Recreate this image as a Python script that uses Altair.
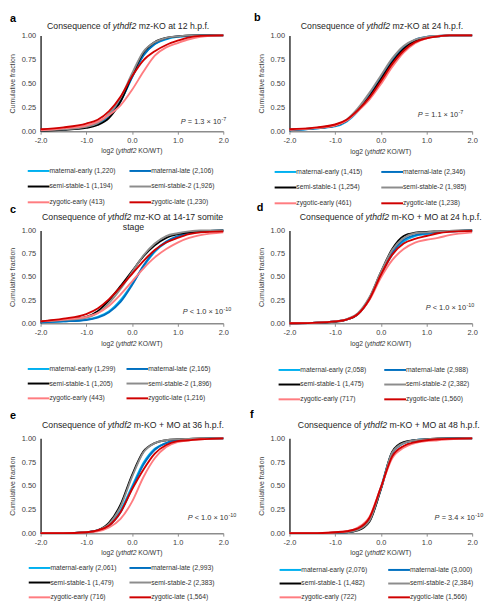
import altair as alt
import pandas as pd

FONT = "Liberation Sans"

X_GRID = [-2.0, -1.5, -1.0, -0.75, -0.5, -0.25, 0.0, 0.25, 0.5, 0.75, 1.0, 1.25, 1.5, 2.0]
SERIES = ["maternal-early", "maternal-late", "semi-stable-1", "semi-stable-2", "zygotic-early", "zygotic-late"]
COLORS = ["#00B0F0", "#0070C0", "#000000", "#8C8C8C", "#FF7C80", "#D00000"]

# ---- panel a : mz-KO at 12 h.p.f.
COUNTS_A = [1220, 2106, 1194, 1926, 413, 1230]
CURVES_A = {
    "maternal-early": [0.01, 0.02, 0.045, 0.08, 0.16, 0.31, 0.56, 0.79, 0.91, 0.96, 0.985, 0.995, 1.0, 1.0],
    "maternal-late": [0.01, 0.02, 0.045, 0.085, 0.17, 0.32, 0.56, 0.79, 0.91, 0.965, 0.99, 0.995, 1.0, 1.0],
    "semi-stable-1": [0.005, 0.015, 0.035, 0.065, 0.14, 0.31, 0.58, 0.82, 0.93, 0.975, 0.99, 1.0, 1.0, 1.0],
    "semi-stable-2": [0.01, 0.02, 0.045, 0.085, 0.18, 0.35, 0.60, 0.83, 0.93, 0.975, 0.99, 1.0, 1.0, 1.0],
    "zygotic-early": [0.01, 0.03, 0.06, 0.10, 0.17, 0.27, 0.43, 0.62, 0.79, 0.875, 0.92, 0.96, 0.985, 1.0],
    "zygotic-late": [0.02, 0.04, 0.08, 0.12, 0.21, 0.36, 0.57, 0.74, 0.835, 0.90, 0.945, 0.98, 0.995, 1.0],
}
# ---- panel b : mz-KO at 24 h.p.f.
COUNTS_B = [1415, 2346, 1254, 1985, 461, 1238]
CURVES_B = {
    "maternal-early": [0.01, 0.025, 0.05, 0.10, 0.21, 0.37, 0.55, 0.73, 0.87, 0.95, 0.98, 0.99, 1.0, 1.0],
    "maternal-late": [0.01, 0.025, 0.055, 0.11, 0.22, 0.38, 0.56, 0.75, 0.88, 0.955, 0.985, 0.995, 1.0, 1.0],
    "semi-stable-1": [0.015, 0.03, 0.06, 0.11, 0.22, 0.36, 0.54, 0.72, 0.86, 0.94, 0.975, 0.99, 1.0, 1.0],
    "semi-stable-2": [0.015, 0.03, 0.065, 0.12, 0.24, 0.40, 0.58, 0.76, 0.89, 0.955, 0.985, 0.995, 1.0, 1.0],
    "zygotic-early": [0.015, 0.03, 0.06, 0.11, 0.21, 0.33, 0.49, 0.67, 0.82, 0.92, 0.97, 0.99, 1.0, 1.0],
    "zygotic-late": [0.02, 0.035, 0.07, 0.12, 0.22, 0.35, 0.52, 0.70, 0.84, 0.93, 0.97, 0.99, 1.0, 1.0],
}
# ---- panel c : mz-KO at 14-17 somite stage
COUNTS_C = [1299, 2165, 1205, 1896, 443, 1216]
CURVES_C = {
    "maternal-early": [0.01, 0.02, 0.04, 0.07, 0.13, 0.25, 0.42, 0.61, 0.77, 0.87, 0.93, 0.97, 0.99, 1.0],
    "maternal-late": [0.01, 0.02, 0.035, 0.06, 0.12, 0.23, 0.41, 0.62, 0.78, 0.88, 0.94, 0.97, 0.99, 1.0],
    "semi-stable-1": [0.02, 0.04, 0.07, 0.13, 0.25, 0.40, 0.56, 0.72, 0.84, 0.92, 0.96, 0.98, 0.99, 1.0],
    "semi-stable-2": [0.02, 0.035, 0.06, 0.11, 0.22, 0.37, 0.55, 0.73, 0.86, 0.94, 0.97, 0.99, 1.0, 1.0],
    "zygotic-early": [0.02, 0.04, 0.07, 0.11, 0.19, 0.31, 0.45, 0.59, 0.71, 0.80, 0.87, 0.92, 0.95, 0.98],
    "zygotic-late": [0.02, 0.05, 0.10, 0.16, 0.26, 0.39, 0.53, 0.67, 0.79, 0.87, 0.92, 0.96, 0.98, 0.99],
}
# ---- panel d : m-KO + MO at 24 h.p.f.
COUNTS_D = [2058, 2988, 1475, 2382, 717, 1560]
CURVES_D = {
    "maternal-early": [0.0, 0.005, 0.02, 0.04, 0.10, 0.26, 0.52, 0.74, 0.88, 0.94, 0.96, 0.98, 0.99, 1.0],
    "maternal-late": [0.0, 0.005, 0.02, 0.04, 0.10, 0.26, 0.53, 0.76, 0.90, 0.95, 0.97, 0.98, 0.99, 1.0],
    "semi-stable-1": [0.0, 0.005, 0.015, 0.04, 0.10, 0.27, 0.55, 0.80, 0.94, 0.975, 0.985, 0.99, 0.995, 1.0],
    "semi-stable-2": [0.0, 0.005, 0.02, 0.045, 0.11, 0.28, 0.55, 0.79, 0.92, 0.97, 0.98, 0.99, 0.995, 1.0],
    "zygotic-early": [0.0, 0.005, 0.02, 0.04, 0.10, 0.25, 0.49, 0.68, 0.80, 0.87, 0.90, 0.92, 0.95, 0.98],
    "zygotic-late": [0.0, 0.005, 0.02, 0.04, 0.10, 0.26, 0.52, 0.74, 0.86, 0.91, 0.94, 0.97, 0.985, 0.995],
}
# ---- panel e : m-KO + MO at 36 h.p.f.
COUNTS_E = [2061, 2993, 1479, 2383, 716, 1564]
CURVES_E = {
    "maternal-early": [0.0, 0.0, 0.01, 0.03, 0.09, 0.24, 0.49, 0.74, 0.89, 0.95, 0.98, 0.99, 0.995, 1.0],
    "maternal-late": [0.0, 0.0, 0.01, 0.03, 0.08, 0.22, 0.47, 0.72, 0.88, 0.95, 0.98, 0.99, 0.995, 1.0],
    "semi-stable-1": [0.0, 0.0, 0.01, 0.03, 0.11, 0.30, 0.61, 0.86, 0.95, 0.98, 0.99, 0.995, 1.0, 1.0],
    "semi-stable-2": [0.0, 0.0, 0.01, 0.03, 0.10, 0.28, 0.59, 0.85, 0.95, 0.98, 0.99, 0.995, 1.0, 1.0],
    "zygotic-early": [0.0, 0.0, 0.01, 0.02, 0.06, 0.15, 0.33, 0.59, 0.79, 0.91, 0.96, 0.98, 0.99, 1.0],
    "zygotic-late": [0.0, 0.0, 0.01, 0.03, 0.08, 0.22, 0.46, 0.67, 0.84, 0.93, 0.97, 0.98, 0.99, 1.0],
}
# ---- panel f : m-KO + MO at 48 h.p.f.
COUNTS_F = [2076, 3000, 1482, 2384, 722, 1566]
CURVES_F = {
    "maternal-early": [0.0, 0.0, 0.005, 0.01, 0.04, 0.14, 0.48, 0.85, 0.95, 0.98, 0.99, 0.995, 1.0, 1.0],
    "maternal-late": [0.0, 0.0, 0.005, 0.01, 0.04, 0.13, 0.46, 0.84, 0.95, 0.98, 0.99, 0.995, 1.0, 1.0],
    "semi-stable-1": [0.0, 0.0, 0.005, 0.01, 0.03, 0.12, 0.46, 0.86, 0.96, 0.98, 0.99, 1.0, 1.0, 1.0],
    "semi-stable-2": [0.0, 0.0, 0.005, 0.01, 0.035, 0.13, 0.47, 0.85, 0.95, 0.98, 0.99, 1.0, 1.0, 1.0],
    "zygotic-early": [0.0, 0.0, 0.01, 0.02, 0.06, 0.17, 0.48, 0.79, 0.90, 0.95, 0.97, 0.98, 0.99, 1.0],
    "zygotic-late": [0.0, 0.0, 0.01, 0.02, 0.05, 0.16, 0.48, 0.81, 0.92, 0.96, 0.98, 0.99, 0.995, 1.0],
}

# titles: (text before the italic gene, text after, optional second line)
GENE = "ythdf2"
TITLES = {
    "a": ("Consequence of", "mz-KO at 12 h.p.f.", None),
    "b": ("Consequence of", "mz-KO at 24 h.p.f.", None),
    "c": ("Consequence of", "mz-KO at 14-17 somite", "stage"),
    "d": ("Consequence of", "m-KO + MO at 24 h.p.f.", None),
    "e": ("Consequence of", "m-KO + MO at 36 h.p.f.", None),
    "f": ("Consequence of", "m-KO + MO at 48 h.p.f.", None),
}
# P values: (relation, mantissa, exponent)
PVALS = {
    "a": ("=", "1.3", "-7"),
    "b": ("=", "1.1", "-7"),
    "c": ("<", "1.0", "-10"),
    "d": ("<", "1.0", "-10"),
    "e": ("<", "1.0", "-10"),
    "f": ("=", "3.4", "-10"),
}

# ---- layout / style (pixels relative to each plot area)
W = 185
ROW_H = {"a": 97, "b": 97, "c": 94, "d": 94, "e": 96, "f": 96}
LAYOUT = {
    "a": dict(letter=(-31, -17), gx=73, ty=-9, xty=20, pv=(142, 9), lx=-14, ly=38, lstep=14, cp=10, ext=(-24, 73)),
    "b": dict(letter=(-36, -18), gx=78, ty=-10, xty=21, pv=(130, 16), lx=-16, ly=39, lstep=14, cp=15, ext=(-24, 73)),
    "c": dict(letter=(-31, -21), gx=68, ty=-14, xty=21, pv=(144, 11), lx=-14, ly=44, lstep=13, cp=7, ext=(-29, 77)),
    "d": dict(letter=(-33, -23), gx=77, ty=-14, xty=21, pv=(138, 15), lx=-12, ly=45, lstep=13, cp=14, ext=(-29, 77)),
    "e": dict(letter=(-31, -23), gx=68, ty=-13, xty=20, pv=(149, 15), lx=-13, ly=33, lstep=13, cp=9, ext=(-30, 65)),
    "f": dict(letter=(-40, -24), gx=75, ty=-13, xty=20, pv=(147, 15), lx=-11, ly=35, lstep=12, cp=17, ext=(-30, 65)),
}
TITLE_SIZE = 8.8
GENE_W = 24.0  # width of italic gene name at TITLE_SIZE
ENTRY_H = 9
LETTER_SIZE = 11


def txt(s, x, y, size, style="normal", weight="normal", align="left", color="#262626", baseline="middle"):
    return alt.Chart(pd.DataFrame({"t": [s]})).mark_text(
        font=FONT, fontSize=size, fontStyle=style, fontWeight=weight,
        align=align, baseline=baseline, color=color,
    ).encode(x=alt.value(x), y=alt.value(y), text="t:N")


def spacer(y):
    # invisible rule fixing the extent of a panel for the grid layout
    return alt.Chart(pd.DataFrame({"g": [0]})).mark_rule(opacity=0, strokeWidth=1).encode(
        x=alt.value(0), x2=alt.value(W), y=alt.value(y))


def panel(key, curves, counts):
    H = ROW_H[key]
    L = LAYOUT[key]
    labels = [f"{s} ({c:,})" for s, c in zip(SERIES, counts)]
    rows = []
    for s, lab in zip(SERIES, labels):
        for xv, yv in zip(X_GRID, curves[s]):
            rows.append({"x": xv, "y": yv, "series": lab})
    df = pd.DataFrame(rows)

    lines = alt.Chart(df).mark_line(strokeWidth=1.9, interpolate="monotone").encode(
        x=alt.X("x:Q", scale=alt.Scale(domain=[-2, 2], nice=False, zero=False),
                axis=alt.Axis(values=[-2, -1, 0, 1, 2], title=None, grid=False,
                              labelExpr="datum.value < 0 ? '-' + format(-datum.value, '.1f') : format(datum.value, '.1f')",
                              labelFont=FONT, labelFontSize=7.5, labelColor="#404040",
                              labelFlush=False, labelOverlap=False, labelPadding=2,
                              domainColor="#8C8C8C", domainWidth=1.5,
                              tickColor="#8C8C8C", tickSize=3, tickWidth=1)),
        y=alt.Y("y:Q", scale=alt.Scale(domain=[0, 1], nice=False),
                axis=alt.Axis(values=[0, 0.25, 0.5, 0.75, 1], format=".2f", grid=False,
                              title="Cumulative fraction", titleFont=FONT, titleFontSize=7,
                              titleFontWeight="normal", titleColor="#404040", titlePadding=6,
                              labelFont=FONT, labelFontSize=7.5, labelColor="#404040",
                              labelFlush=False, labelOverlap=False, labelPadding=5,
                              ticks=False, domainColor="#404040", domainWidth=1.6)),
        color=alt.Color("series:N", sort=labels,
                        scale=alt.Scale(domain=labels, range=COLORS),
                        legend=alt.Legend(title=None, orient="none", direction="horizontal",
                                          legendX=L["lx"], legendY=H + L["ly"] - ENTRY_H / 2,
                                          columns=2, columnPadding=L["cp"],
                                          rowPadding=L["lstep"] - ENTRY_H,
                                          symbolType="M-1,0H3", symbolSize=121, symbolStrokeWidth=2,
                                          labelFont=FONT, labelFontSize=6.8, labelColor="#333333",
                                          labelOffset=10, labelLimit=200)),
    )

    pre, post, line2 = TITLES[key]
    gx, ty = L["gx"], L["ty"]
    texts = [
        txt(key, L["letter"][0], L["letter"][1] - LETTER_SIZE / 2, LETTER_SIZE,
            weight="bold", color="#000000", baseline="top"),
        txt(pre, gx - 2.4, ty, TITLE_SIZE, align="right"),
        txt(GENE, gx, ty, TITLE_SIZE, style="italic"),
        txt(post, gx + GENE_W + 2.4, ty, TITLE_SIZE),
    ]
    if line2:
        texts.append(txt(line2, 94, ty + 11, TITLE_SIZE, align="center"))
    # x-axis title: log2 (ythdf2 KO/WT)
    xc = W / 2
    xy = H + L["xty"]
    texts += [
        txt("log2 (", xc - 14, xy, 6.8, align="right", color="#333333"),
        txt(GENE, xc - 14, xy, 6.8, style="italic", color="#333333"),
        txt("KO/WT)", xc + 6.4, xy, 6.8, color="#333333"),
    ]
    rel, mant, exp = PVALS[key]
    px, pb = L["pv"]
    py = H - pb
    texts += [
        txt("P", px, py, 7.5, style="italic", color="#333333"),
        txt(f"{rel} {mant} \u00d7 10", px + 7.1, py, 7.5, color="#333333"),
        txt(exp, px + 41.2, py - 3, 5.5, color="#333333"),
    ]
    top_ext, bottom_ext = L["ext"]
    texts += [spacer(top_ext), spacer(H + bottom_ext)]
    return alt.layer(lines, *texts).properties(width=W, height=H)


def row(left, right):
    return alt.hconcat(left, right, spacing=67, bounds="flush").resolve_scale(
        x="independent", y="independent", color="independent")


r1 = row(panel("a", CURVES_A, COUNTS_A), panel("b", CURVES_B, COUNTS_B))
r2 = row(panel("c", CURVES_C, COUNTS_C), panel("d", CURVES_D, COUNTS_D))
r3 = row(panel("e", CURVES_E, COUNTS_E), panel("f", CURVES_F, COUNTS_F))

top = alt.vconcat(r1, r2, spacing=-6.5).resolve_scale(x="independent", y="independent", color="independent")
chart = alt.vconcat(top, r3, spacing=5).resolve_scale(
    x="independent", y="independent", color="independent"
).properties(padding=0).configure(font=FONT).configure_view(stroke=None)

chart.save("out.html", embed_options={"renderer": "svg", "actions": False})
